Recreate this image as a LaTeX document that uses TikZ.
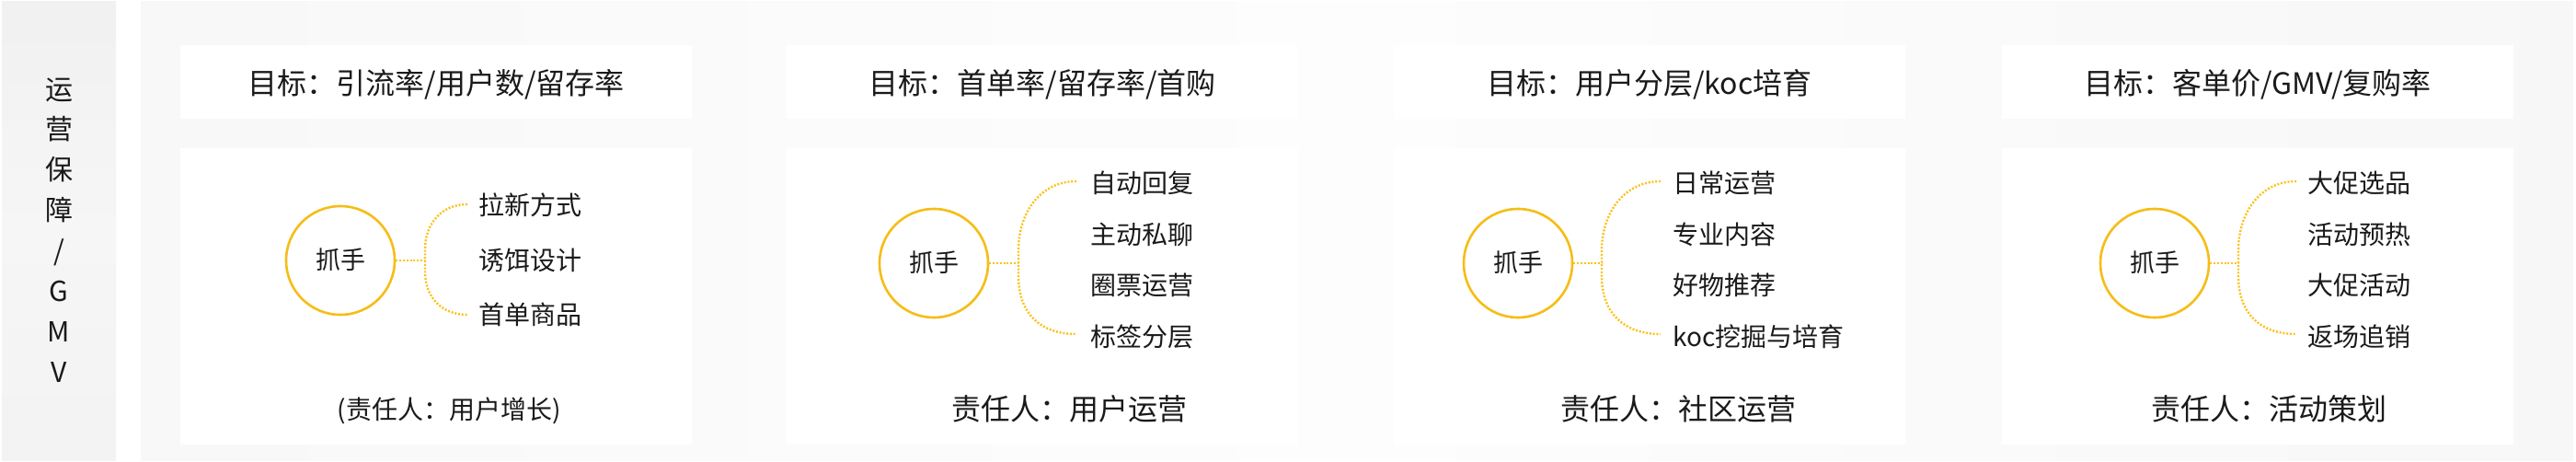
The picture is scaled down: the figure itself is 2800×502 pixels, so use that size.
\documentclass[tikz,border=0pt]{standalone}
\usepackage{fontspec}
\setmainfont{Noto Sans CJK SC}
\usetikzlibrary{calc}
\definecolor{ink}{HTML}{1A1A1A}
\definecolor{ylw}{HTML}{F6BD16}
\definecolor{dotc}{HTML}{FCC21B}
\definecolor{pnlA}{HTML}{F2F2F2}
\definecolor{pnlB}{HTML}{FAFAFA}
\definecolor{pnlC}{HTML}{FDFDFD}
\definecolor{lpT}{HTML}{EBEBEB}
\definecolor{lpM}{HTML}{F6F6F6}
\definecolor{lpB}{HTML}{EFEFEF}
\definecolor{boxL}{HTML}{F5F5F5}
\definecolor{boxM}{HTML}{F8F8F8}
\pgfdeclarehorizontalshading{panelshade}{100bp}{color(0bp)=(pnlA); color(35bp)=(pnlB); color(50bp)=(pnlC); color(62bp)=(pnlB); color(100bp)=(pnlA)}
\pgfdeclareverticalshading{leftshade}{100bp}{color(0bp)=(lpB); color(50bp)=(lpM); color(100bp)=(lpT)}
\pgfdeclarehorizontalshading{boxshade}{100bp}{color(0bp)=(boxL); color(10bp)=(boxM); color(11bp)=(white); color(100bp)=(white)}
\begin{document}
\begin{tikzpicture}[x=1pt,y=-1pt,
  every node/.style={inner sep=0pt, text=ink},
  ttl/.style={font=\fontsize{32}{32}\selectfont, text height=23.7pt, text depth=0pt},
  resp/.style={font=\fontsize{32}{32}\selectfont, text height=23.7pt, text depth=0pt},
  respsm/.style={font=\fontsize{28}{28}\selectfont, text height=20.7pt, text depth=0pt},
  itm/.style={anchor=west, font=\fontsize{28}{28}\selectfont, text height=20.7pt, text depth=0pt},
  vtxt/.style={font=\fontsize{30}{30}\selectfont, text height=22.2pt, text depth=0pt},
  hand/.style={circle, draw=ylw, line width=2.6pt, minimum size=118pt,
    font=\fontsize{27}{27}\selectfont, text height=20pt, text depth=0pt},
  conn/.style={draw=dotc, line width=2.4pt, dash pattern=on 2pt off 1.8pt},
  boxfill/.style={shading=boxshade}
]
\useasboundingbox (0,0) rectangle (2800,502);
\fill[white] (0,0) rectangle (2800,502);
% left panel
\fill[shading=leftshade] (2,2) rectangle (126,500);
\foreach \c [count=\i] in {运,营,保,障,/,G,M,V}
  \node[vtxt] (v\i) at (64,{97+43.9*(\i-1)}) {\c};
% outer panel
\fill[shading=panelshade] (153,2) rectangle (2797,500);
% column boxes
\foreach \l/\r in {196/752, 855/1411, 1515/2071, 2176/2732}{
  \fill[boxfill] (\l,50) rectangle (\r,129);
  \fill[boxfill] (\l,162) rectangle (\r,482);
}
% titles
\node[ttl] (t1) at (474,91) {目标：引流率/用户数/留存率};
\node[ttl] (t2) at (1133,91) {目标：首单率/留存率/首购};
\node[ttl] (t3) at (1793,91) {目标：用户分层/koc培育};
\node[ttl] (t4) at (2454,91) {目标：客单价/GMV/复购率};
% responsible
\node[respsm] (r1) at (488,445) {(责任人：用户增长)};
\node[resp] (r2) at (1162,445) {责任人：用户运营};
\node[resp] (r3) at (1824,445) {责任人：社区运营};
\node[resp] (r4) at (2466,445) {责任人：活动策划};

% column 1
\node[hand] (h1) at (370,283) {抓手};
\node[itm] (a1) at (520,223) {拉新方式};
\node[itm] (a2) at (520,283) {诱饵设计};
\node[itm] (a3) at (520,342) {首单商品};
\coordinate (j1) at (462,283);
\coordinate (e1t) at (508,222);
\coordinate (e1b) at (508,342);
\draw[conn] (h1.east) -- (j1);
\draw[conn] (e1t) .. controls +(-28,0) and +(0,-28) .. ($(j1)+(0,-12)$) -- ($(j1)+(0,12)$) .. controls +(0,28) and +(-28,0) .. (e1b);

% column 2
\node[hand] (h2) at (1015,286) {抓手};
\node[itm] (b1) at (1185,199) {自动回复};
\node[itm] (b2) at (1185,255) {主动私聊};
\node[itm] (b3) at (1185,310) {圈票运营};
\node[itm] (b4) at (1185,366) {标签分层};
\coordinate (j2) at (1107,286);
\coordinate (e2t) at (1170,197);
\coordinate (e2b) at (1170,363);
\draw[conn] (h2.east) -- (j2);
\draw[conn] (e2t) .. controls +(-40,0) and +(0,-40) .. ($(j2)+(0,-14)$) -- ($(j2)+(0,14)$) .. controls +(0,40) and +(-40,0) .. (e2b);

% column 3
\node[hand] (h3) at (1650,286) {抓手};
\node[itm] (c1) at (1818,199) {日常运营};
\node[itm] (c2) at (1818,255) {专业内容};
\node[itm] (c3) at (1818,310) {好物推荐};
\node[itm] (c4) at (1818,366) {koc挖掘与培育};
\coordinate (j3) at (1741,286);
\coordinate (e3t) at (1805,197);
\coordinate (e3b) at (1805,363);
\draw[conn] (h3.east) -- (j3);
\draw[conn] (e3t) .. controls +(-40,0) and +(0,-40) .. ($(j3)+(0,-14)$) -- ($(j3)+(0,14)$) .. controls +(0,40) and +(-40,0) .. (e3b);

% column 4
\node[hand] (h4) at (2342,286) {抓手};
\node[itm] (d1) at (2508,199) {大促选品};
\node[itm] (d2) at (2508,255) {活动预热};
\node[itm] (d3) at (2508,310) {大促活动};
\node[itm] (d4) at (2508,366) {返场追销};
\coordinate (j4) at (2433,286);
\coordinate (e4t) at (2496,197);
\coordinate (e4b) at (2496,363);
\draw[conn] (h4.east) -- (j4);
\draw[conn] (e4t) .. controls +(-40,0) and +(0,-40) .. ($(j4)+(0,-14)$) -- ($(j4)+(0,14)$) .. controls +(0,40) and +(-40,0) .. (e4b);
\end{tikzpicture}
\end{document}
